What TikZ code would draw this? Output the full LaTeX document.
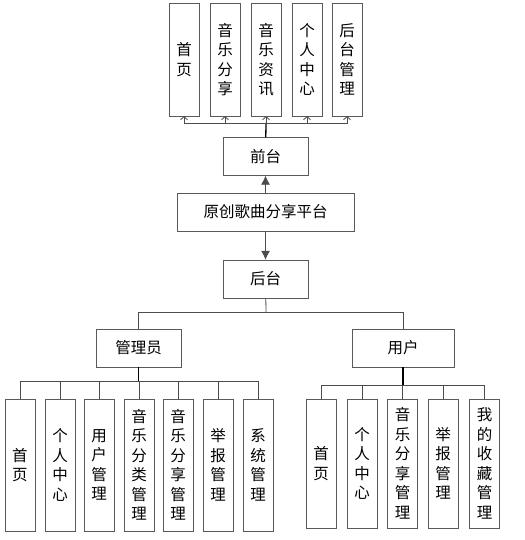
\documentclass[tikz,border=0pt]{standalone}
\usepackage{fontspec}
\newfontfamily\cjk{Noto Sans CJK SC}
\usetikzlibrary{arrows, arrows.meta, positioning}

\tikzset{
  box/.style={draw=black!65, fill=white, font=\cjk\fontsize{15.5}{19.5}\selectfont, inner sep=0pt},
  hbox/.style={box, minimum height=38pt},
  vbox/.style={box, minimum width=30pt, align=center},
  bar/.style={draw=black!70, line width=0.8pt},
  bigbar/.style={draw=black, line width=1.3pt},
  tip/.style={-{Straight Barb[length=3pt,width=7pt]}},
  bigtip/.style={-{Latex[length=9pt,width=9pt]}}
}

\begin{document}
\begin{tikzpicture}[x=1pt, y=-1pt]
  \useasboundingbox[fill=white] (0,0) rectangle (524,540);

  % haut
  \node[vbox, minimum height=113pt] (shouye)  at (184, 59.5) {首\\页};
  \node[vbox, minimum height=113pt] (fenxiang) at (225, 59.5) {音\\乐\\分\\享};
  \node[vbox, minimum height=113pt] (zixun)   at (266, 59.5) {音\\乐\\资\\讯};
  \node[vbox, minimum height=113pt] (geren)   at (307, 59.5) {个\\人\\中\\心};
  \node[vbox, minimum height=113pt] (houguan) at (347, 59.5) {后\\台\\管\\理};

  \node[hbox, minimum width=85pt]  (qiantai) at (265.5, 156.5) {前台};
  \node[hbox, minimum width=177pt] (pingtai) at (265.5, 212)   {原创歌曲分享平台};
  \node[hbox, minimum width=85pt]  (houtai)  at (265.5, 279)   {后台};

  \coordinate (topbus) at (266, 123);
  \draw[bigbar] (qiantai) -- (topbus);
  \foreach \n in {shouye, fenxiang, zixun, geren, houguan}
    \draw[bar, tip] (topbus) -| (\n.south);

  \draw[bar, bigtip] (pingtai) -- (qiantai);
  \draw[bar, bigtip] (pingtai) -- (houtai);

  % milieu
  \node[hbox, minimum width=85pt]  (admin) at (138.5, 348) {管理员};
  \node[hbox, minimum width=102pt] (user)  at (403, 348)   {用户};

  \coordinate (midbus) at (266, 312);
  \draw[bar] (houtai) -- (midbus);
  \draw[bar] (midbus) -| (admin);
  \draw[bar] (midbus) -| (user);

  % partie gauche
  \node[vbox, minimum height=132pt] (a1) at (20, 465)  {首\\页};
  \node[vbox, minimum height=132pt] (a2) at (60, 465)  {个\\人\\中\\心};
  \node[vbox, minimum height=132pt] (a3) at (99, 465)  {用\\户\\管\\理};
  \node[vbox, minimum height=132pt] (a4) at (139, 465) {音\\乐\\分\\类\\管\\理};
  \node[vbox, minimum height=132pt] (a5) at (178, 465) {音\\乐\\分\\享\\管\\理};
  \node[vbox, minimum height=132pt] (a6) at (218, 465) {举\\报\\管\\理};
  \node[vbox, minimum height=132pt] (a7) at (258, 465) {系\\统\\管\\理};

  \coordinate (adminbus) at (138.5, 381);
  \draw[bigbar] (admin) -- (adminbus);
  \foreach \n in {a1, a2, a3, a4, a5, a6, a7}
    \draw[bar] (adminbus) -| (\n.north);

  % partie droite
  \node[vbox, minimum height=129pt] (u1) at (321, 463.5)   {首\\页};
  \node[vbox, minimum height=129pt] (u2) at (362, 463.5)   {个\\人\\中\\心};
  \node[vbox, minimum height=129pt] (u3) at (402.5, 463.5) {音\\乐\\分\\享\\管\\理};
  \node[vbox, minimum height=129pt] (u4) at (443, 463.5)   {举\\报\\管\\理};
  \node[vbox, minimum height=129pt] (u5) at (484.5, 463.5) {我\\的\\收\\藏\\管\\理};

  \coordinate (userbus) at (403, 385);
  \draw[bigbar] (user) -- (userbus);
  \foreach \n in {u1, u2, u3, u4, u5}
    \draw[bar] (userbus) -| (\n.north);
\end{tikzpicture}
\end{document}
